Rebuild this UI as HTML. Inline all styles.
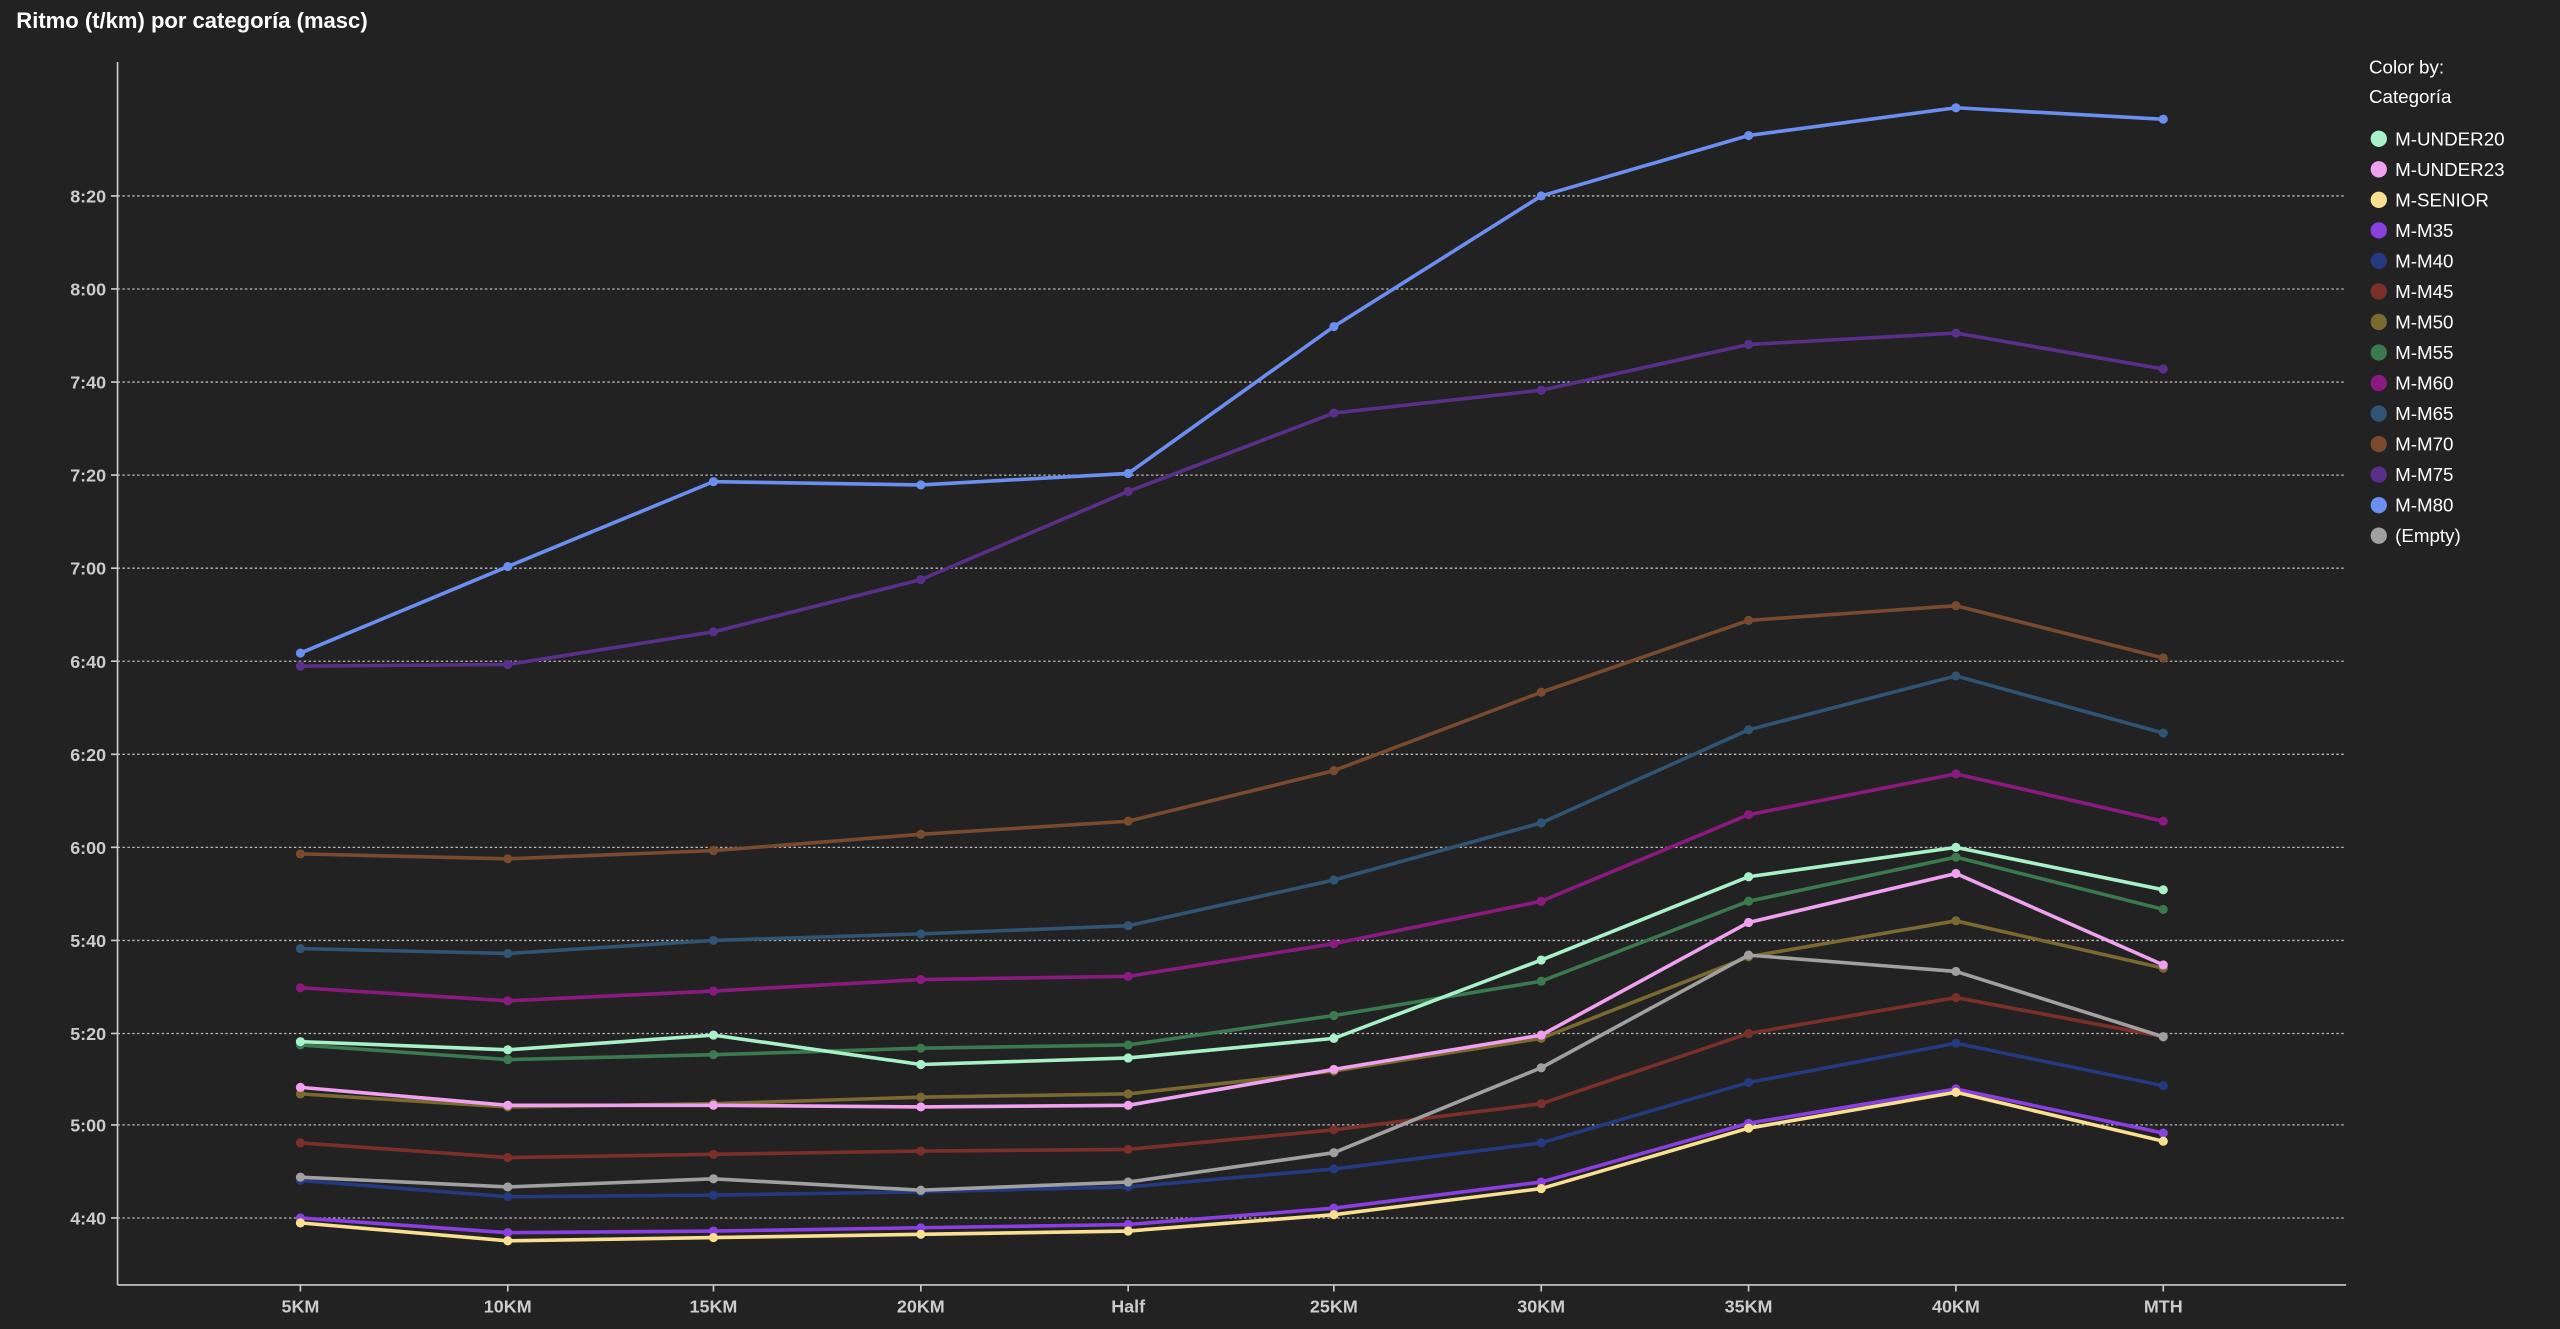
<!DOCTYPE html>
<html><head><meta charset="utf-8"><style>
html,body{margin:0;padding:0;background:#222;}
svg{display:block}
text{font-family:"Liberation Sans",sans-serif;}
</style></head><body>
<svg width="2560" height="1329" viewBox="0 0 1568 814" xmlns="http://www.w3.org/2000/svg">
<rect width="1568" height="814" fill="#222"/>
<text x="10" y="17" fill="#fff" font-size="13.5" font-weight="bold">Ritmo (t/km) por categoría (masc)</text>
<g stroke="#bbb" stroke-width="0.8" stroke-dasharray="1.5,1.5">
<line x1="72" x2="1437" y1="120" y2="120"/><line x1="72" x2="1437" y1="177" y2="177"/>
<line x1="72" x2="1437" y1="234" y2="234"/><line x1="72" x2="1437" y1="291" y2="291"/>
<line x1="72" x2="1437" y1="348" y2="348"/><line x1="72" x2="1437" y1="405" y2="405"/>
<line x1="72" x2="1437" y1="462" y2="462"/><line x1="72" x2="1437" y1="519" y2="519"/>
<line x1="72" x2="1437" y1="576" y2="576"/><line x1="72" x2="1437" y1="633" y2="633"/>
<line x1="72" x2="1437" y1="689" y2="689"/><line x1="72" x2="1437" y1="746" y2="746"/>
</g>
<g stroke="#ccc" stroke-width="1">
<line x1="72" y1="38" x2="72" y2="787"/><line x1="72" y1="787" x2="1437" y2="787"/>
<path d="M68 120h4M68 177h4M68 234h4M68 291h4M68 348h4M68 405h4M68 462h4M68 519h4M68 576h4M68 633h4M68 689h4M68 746h4"/>
<path d="M184 787v4M311 787v4M437 787v4M564 787v4M691 787v4M817 787v4M944 787v4M1071 787v4M1198 787v4M1325 787v4"/>
</g>
<g fill="#ccc" font-size="11" font-weight="bold" text-anchor="end">
<text x="65" y="124">8:20</text><text x="65" y="181">8:00</text><text x="65" y="238">7:40</text>
<text x="65" y="295">7:20</text><text x="65" y="352">7:00</text><text x="65" y="409">6:40</text>
<text x="65" y="466">6:20</text><text x="65" y="523">6:00</text><text x="65" y="580">5:40</text>
<text x="65" y="637">5:20</text><text x="65" y="693">5:00</text><text x="65" y="750">4:40</text>
</g>
<g fill="#ccc" font-size="11" font-weight="bold" text-anchor="middle">
<text x="184" y="804">5KM</text><text x="311" y="804">10KM</text><text x="437" y="804">15KM</text>
<text x="564" y="804">20KM</text><text x="691" y="804">Half</text><text x="817" y="804">25KM</text>
<text x="944" y="804">30KM</text><text x="1071" y="804">35KM</text><text x="1198" y="804">40KM</text>
<text x="1325" y="804">MTH</text>
</g>
<g id="series" fill="none" stroke-width="2.2" stroke-linejoin="round"></g>
<g fill="#fff" font-size="11.5">
<text x="1451" y="45">Color by:</text><text x="1451" y="63">Categoría</text>
</g>
<g id="legend" font-size="11.5" fill="#fff"></g>
<script>
var xs=[184,311,437,564,691,817,944,1071,1198,1325];
var S=[
["M-UNDER20","#a8f0c8",[638,643,634,652,648,636,588,537,519,545]],
["M-UNDER23","#f0a0f0",[666,677,677,678,677,655,634,565,535,591]],
["M-SENIOR","#f8e090",[749,760,758,756,754,744,728,691,669,699]],
["M-M35","#8a40e0",[746,755,754,752,750,740,724,688,667,694]],
["M-M40","#243a80",[723,733,732,730,727,716,700,663,639,665]],
["M-M45","#7a3028",[700,709,707,705,704,692,676,633,611,635]],
["M-M50","#7a6a30",[670,678,676,672,670,656,636,586,564,593]],
["M-M55","#3a7a4e",[640,649,646,642,640,622,601,552,525,557]],
["M-M60","#8a1a80",[605,613,607,600,598,578,552,499,474,503]],
["M-M65","#2f5474",[581,584,576,572,567,539,504,447,414,449]],
["M-M70","#7a4a2e",[523,526,521,511,503,472,424,380,371,403]],
["M-M75","#5a2f8a",[408,407,387,355,301,253,239,211,204,226]],
["M-M80","#6a8ff0",[400,347,295,297,290,200,120,83,66,73]],
["(Empty)","#a0a0a0",[721,727,722,729,724,706,654,585,595,635]]];
var ns="http://www.w3.org/2000/svg",g=document.getElementById("series"),L=document.getElementById("legend");
var order=[12,11,10,9,8,7,6,5,4,13,1,0,3,2];
order.forEach(function(i){var s=S[i];var p=document.createElementNS(ns,"polyline");
p.setAttribute("points",s[2].map(function(y,k){return xs[k]+","+y}).join(" "));p.setAttribute("stroke",s[1]);g.appendChild(p);
s[2].forEach(function(y,k){var c=document.createElementNS(ns,"circle");c.setAttribute("cx",xs[k]);c.setAttribute("cy",y);c.setAttribute("r",2.8);c.setAttribute("fill",s[1]);c.setAttribute("stroke","none");g.appendChild(c);});});
S.forEach(function(s,i){var y=85+18.7*i;var c=document.createElementNS(ns,"circle");c.setAttribute("cx",1457);c.setAttribute("cy",y);c.setAttribute("r",5);c.setAttribute("fill",s[1]);L.appendChild(c);
var t=document.createElementNS(ns,"text");t.setAttribute("x",1467);t.setAttribute("y",y+4);t.textContent=s[0];L.appendChild(t);});
</script>
</svg>
</body></html>
